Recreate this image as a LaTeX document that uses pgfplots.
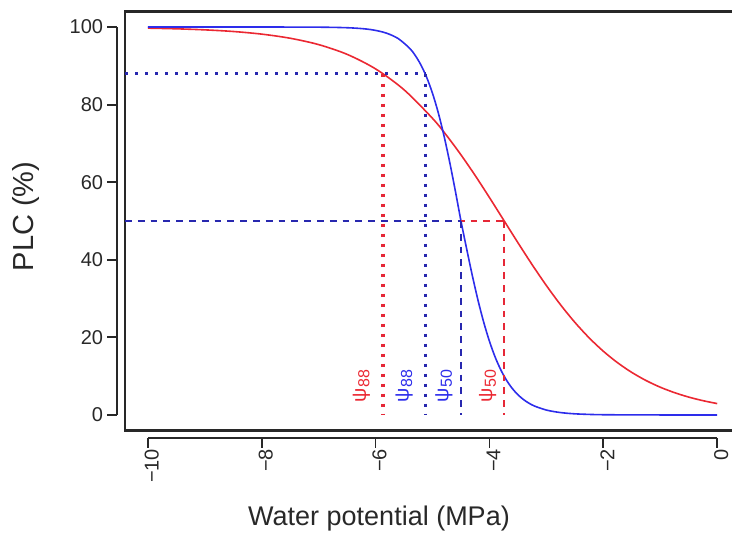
\documentclass[border=0pt]{standalone}
\usepackage{pgfplots}
\pgfplotsset{compat=1.18}
\usepackage{fontspec}
\setmainfont{Liberation Sans}
\definecolor{cred}{RGB}{235,40,50}
\definecolor{cblue}{RGB}{45,45,235}
\definecolor{dred}{RGB}{230,40,55}
\definecolor{dblue}{RGB}{40,40,175}
\definecolor{txt}{RGB}{40,40,40}
\tikzset{tl/.style={font=\fontsize{10}{12}\selectfont, text=txt, inner sep=0pt},
  psi/.style={rotate=90, font=\fontsize{10}{11}\selectfont, inner sep=0pt}}
\newcommand{\psisub}[1]{ψ\kern0.3pt\raisebox{-1.8pt}{\fontsize{8}{9}\selectfont #1}}
\begin{document}
\begin{tikzpicture}
\begin{axis}[
  at={(0,0)}, anchor=south west,
  scale only axis, width=307.5pt, height=209.5pt,
  xmin=-10.4, xmax=0.4, ymin=-4, ymax=104,
  xtick=\empty, ytick=\empty,
  axis line style={line width=1.1pt, txt},
  clip=false,
]
% curves
\addplot[cred, line width=0.8pt, smooth] coordinates {
(-10,99.71) (-9.5,99.54) (-9,99.27) (-8.5,98.85) (-8,98.17) (-7.5,97.11)
(-7,95.47) (-6.5,92.96) (-6,89.21) (-5.5,83.83) (-5,76.46) (-4.75,71.99)
(-4.5,67.05) (-4.25,61.71) (-4,56.05) (-3.75,50.23) (-3.5,44.41) (-3.25,38.74)
(-3,33.36) (-2.75,28.38) (-2.5,23.88) (-2.25,19.89) (-2,16.43) (-1.75,13.47)
(-1.5,10.97) (-1.25,8.88) (-1,7.16) (-0.75,5.76) (-0.5,4.61) (-0.25,3.69) (0,2.94)
};
\addplot[cblue, line width=0.8pt, smooth] coordinates {
(-10,100) (-8,100) (-7,99.96) (-6.5,99.82) (-6.2,99.54) (-6,99.13) (-5.8,98.38)
(-5.6,97.00) (-5.4,94.50) (-5.3,92.61) (-5.2,90.13) (-5.1,86.94) (-5,82.92)
(-4.9,77.97) (-4.8,72.07) (-4.7,65.30) (-4.6,57.83) (-4.5,50) (-4.4,42.80)
(-4.3,35.89) (-4.2,29.52) (-4.1,23.87) (-4,19.00) (-3.9,14.93) (-3.8,11.61)
(-3.7,8.95) (-3.6,6.85) (-3.5,5.22) (-3.4,3.95) (-3.3,2.99) (-3.2,2.25)
(-3,1.27) (-2.8,0.72) (-2.6,0.40) (-2.4,0.23) (-2,0.07) (-1,0.01) (0,0)
};
% P88 dotted
\addplot[dred, line width=1.6pt, dash pattern=on 1.5pt off 3.5pt] coordinates {(-10.4,88) (-5.87,88)};
\addplot[dred, line width=1.6pt, dash pattern=on 1.5pt off 3.5pt] coordinates {(-5.87,88) (-5.87,0)};
\addplot[dblue, line width=1.6pt, dash pattern=on 1.5pt off 3.5pt] coordinates {(-10.4,88) (-5.13,88)};
\addplot[dblue, line width=1.6pt, dash pattern=on 1.5pt off 3.5pt] coordinates {(-5.13,88) (-5.13,0)};
% P50 dashed
\addplot[dred, line width=1.2pt, dash pattern=on 3.4pt off 3.0pt] coordinates {(-10.4,50) (-3.74,50)};
\addplot[dred, line width=1.2pt, dash pattern=on 3.4pt off 3.0pt] coordinates {(-3.74,50) (-3.74,0)};
\addplot[dblue, line width=1.2pt, dash pattern=on 3.4pt off 3.0pt] coordinates {(-10.4,50) (-4.50,50)};
\addplot[dblue, line width=1.2pt, dash pattern=on 3.4pt off 3.0pt] coordinates {(-4.50,50) (-4.50,0)};
% psi labels
\node[psi, text=cred] at (axis cs:-6.25,7.5) {\psisub{88}};
\node[psi, text=cblue] at (axis cs:-5.50,7.5) {\psisub{88}};
\node[psi, text=cblue] at (axis cs:-4.80,7.5) {\psisub{50}};
\node[psi, text=cred] at (axis cs:-4.03,7.5) {\psisub{50}};
% y axis (R style)
\draw[line width=0.9pt, txt] ([xshift=-4pt]axis cs:-10.4,0) -- ([xshift=-4pt]axis cs:-10.4,100);
\draw[line width=0.9pt, txt] ([xshift=-4pt]axis cs:-10.4,0) -- ([xshift=-9pt]axis cs:-10.4,0) node[tl, left, xshift=-1.5pt] {0};
\draw[line width=0.9pt, txt] ([xshift=-4pt]axis cs:-10.4,20) -- ([xshift=-9pt]axis cs:-10.4,20) node[tl, left, xshift=-1.5pt] {20};
\draw[line width=0.9pt, txt] ([xshift=-4pt]axis cs:-10.4,40) -- ([xshift=-9pt]axis cs:-10.4,40) node[tl, left, xshift=-1.5pt] {40};
\draw[line width=0.9pt, txt] ([xshift=-4pt]axis cs:-10.4,60) -- ([xshift=-9pt]axis cs:-10.4,60) node[tl, left, xshift=-1.5pt] {60};
\draw[line width=0.9pt, txt] ([xshift=-4pt]axis cs:-10.4,80) -- ([xshift=-9pt]axis cs:-10.4,80) node[tl, left, xshift=-1.5pt] {80};
\draw[line width=0.9pt, txt] ([xshift=-4pt]axis cs:-10.4,100) -- ([xshift=-9pt]axis cs:-10.4,100) node[tl, left, xshift=-1.5pt] {100};
% x axis (R style)
\draw[line width=0.9pt, txt] ([yshift=-3.75pt]axis cs:-10,-4) -- ([yshift=-3.75pt]axis cs:0,-4);
\draw[line width=0.9pt, txt] ([yshift=-3.75pt]axis cs:-10,-4) -- ([yshift=-8.75pt]axis cs:-10,-4) node[tl, rotate=90, anchor=east, yshift=-2pt] {−10};
\draw[line width=0.9pt, txt] ([yshift=-3.75pt]axis cs:-8,-4) -- ([yshift=-8.75pt]axis cs:-8,-4) node[tl, rotate=90, anchor=east, yshift=-2pt] {−8};
\draw[line width=0.9pt, txt] ([yshift=-3.75pt]axis cs:-6,-4) -- ([yshift=-8.75pt]axis cs:-6,-4) node[tl, rotate=90, anchor=east, yshift=-2pt] {−6};
\draw[line width=0.9pt, txt] ([yshift=-3.75pt]axis cs:-4,-4) -- ([yshift=-8.75pt]axis cs:-4,-4) node[tl, rotate=90, anchor=east, yshift=-2pt] {−4};
\draw[line width=0.9pt, txt] ([yshift=-3.75pt]axis cs:-2,-4) -- ([yshift=-8.75pt]axis cs:-2,-4) node[tl, rotate=90, anchor=east, yshift=-2pt] {−2};
\draw[line width=0.9pt, txt] ([yshift=-3.75pt]axis cs:0,-4) -- ([yshift=-8.75pt]axis cs:0,-4) node[tl, rotate=90, anchor=east, yshift=-2pt] {0};
\end{axis}
% axis titles
\node[font=\fontsize{13.5}{16}\selectfont, text=txt] at (127pt,-44.25pt) {Water potential (MPa)};
\node[rotate=90, font=\fontsize{14.5}{17}\selectfont, text=txt] at (-49.5pt,107pt) {PLC (\%)};
\pgfresetboundingbox
\useasboundingbox (-62.5pt,-53.25pt) rectangle (303.5pt,215.25pt);
\end{tikzpicture}
\end{document}
